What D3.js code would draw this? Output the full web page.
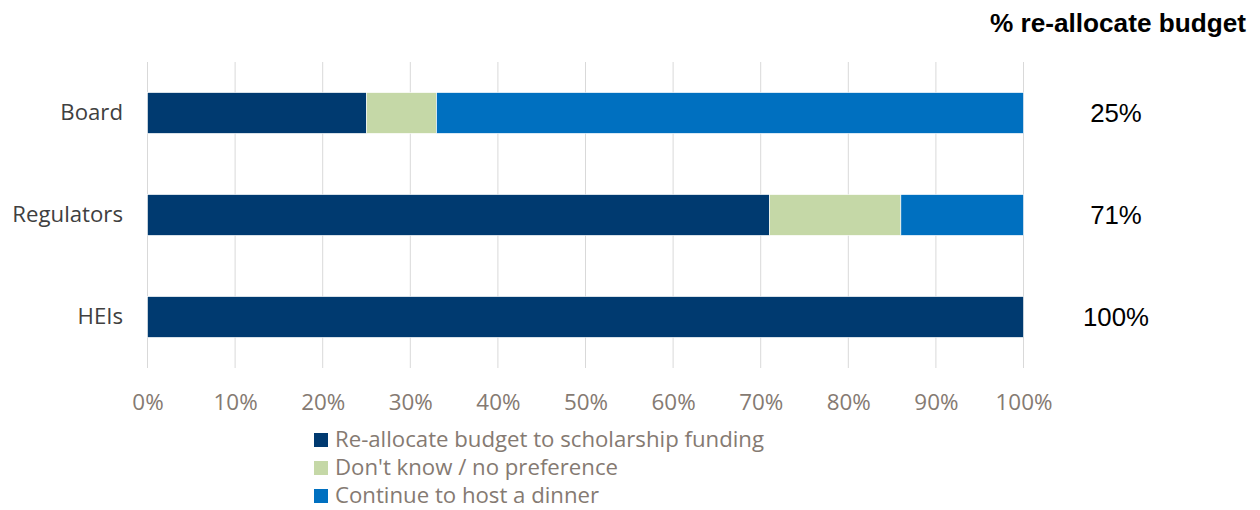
<!DOCTYPE html>
<html><head><meta charset="utf-8">
<script src="https://cdn.jsdelivr.net/npm/d3@7"></script>
<style>body{margin:0;background:#fff}svg{display:block}</style>
</head><body>
<svg id="chart" width="1260" height="510"></svg>
<script>
const categories = ["Board", "Regulators", "HEIs"];
const seriesNames = ["Re-allocate budget to scholarship funding", "Don't know / no preference", "Continue to host a dinner"];
const reallocate = [25, 71, 100];
const dontKnow = [8, 15, 0];
const continueDinner = [67, 14, 0];
const tickValues = [0, 10, 20, 30, 40, 50, 60, 70, 80, 90, 100];
const colors = ["#003A70", "#C5D8A7", "#0070C0"];

const svg = d3.select("#chart");
const x = d3.scaleLinear().domain([0, 100]).range([147.5, 1023.5]);
const y = d3.scaleBand().domain(categories).range([62, 368]).paddingInner(0.6).paddingOuter(0.3);

const rows = categories.map((c, i) => ({cat: c, a: reallocate[i], b: dontKnow[i], c: continueDinner[i]}));
const stacked = d3.stack().keys(["a", "b", "c"])(rows);

// vertical gridlines
svg.append("g").selectAll("line").data(tickValues).join("line")
  .attr("x1", d => x(d)).attr("x2", d => x(d))
  .attr("y1", 62).attr("y2", 368)
  .attr("stroke", "#D9D9D9").attr("stroke-width", 1);

// stacked bars
svg.append("g").selectAll("g").data(stacked).join("g")
  .attr("fill", (d, i) => colors[i])
  .selectAll("rect").data(d => d.filter(s => s[1] > s[0])).join("rect")
  .attr("x", d => x(d[0])).attr("width", d => x(d[1]) - x(d[0]))
  .attr("y", d => y(d.data.cat)).attr("height", y.bandwidth())
  .attr("stroke", "#fff").attr("stroke-width", 0.6);

// x axis tick labels
const xAxis = svg.append("g").attr("transform", "translate(0,368)")
  .call(d3.axisBottom(x).tickValues(tickValues).tickFormat(d => d + "%").tickSize(0).tickPadding(26));
xAxis.select(".domain").remove();
xAxis.selectAll("text").attr("font-family", "'Open Sans', sans-serif").attr("font-size", 22.4).attr("fill", "#857A72");

// category labels
const yAxis = svg.append("g").attr("transform", "translate(147,0)")
  .call(d3.axisLeft(y).tickSize(0).tickPadding(24));
yAxis.select(".domain").remove();
yAxis.selectAll("text").attr("font-family", "'Open Sans', sans-serif").attr("font-size", 22.2).attr("fill", "#404040");

// right-hand value labels
svg.append("g").selectAll("text").data(rows).join("text")
  .attr("x", 1116).attr("y", d => y(d.cat) + y.bandwidth() / 2)
  .attr("dy", "0.35em").attr("text-anchor", "middle")
  .attr("font-family", "'Liberation Sans', Arial, sans-serif").attr("font-size", 25.8).attr("fill", "#000")
  .text(d => d.a + "%");

svg.append("text").attr("x", 1246).attr("y", 32).attr("text-anchor", "end")
  .attr("font-family", "'Liberation Sans', Arial, sans-serif").attr("font-size", 26.2).attr("font-weight", "bold")
  .attr("fill", "#000").text("% re-allocate budget");

// legend
const legend = svg.append("g").selectAll("g").data(seriesNames).join("g")
  .attr("transform", (d, i) => `translate(314,${439 + i * 28})`);
legend.append("rect").attr("x", 0).attr("y", -6).attr("width", 14).attr("height", 14).attr("fill", (d, i) => colors[i]);
legend.append("text").attr("x", 21).attr("dy", "0.35em")
  .attr("font-family", "'Open Sans', sans-serif").attr("font-size", 22.2).attr("fill", "#857A72")
  .text(d => d);
</script>
</body></html>
